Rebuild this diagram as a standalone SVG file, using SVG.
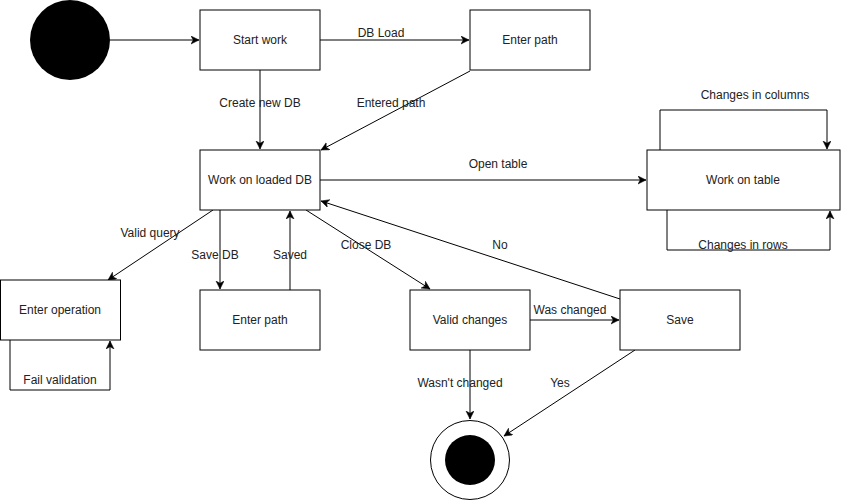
<svg xmlns="http://www.w3.org/2000/svg" width="841" height="501" viewBox="0 0 841 501">
<defs>
<style>
.box{fill:#fff;stroke:#000;stroke-width:1}
.lbl{font-family:"Liberation Sans",Arial,sans-serif;font-size:12px;fill:#222;text-anchor:middle;dominant-baseline:central}
.edge{fill:none;stroke:#000;stroke-width:1;marker-end:url(#arr)}
</style>
<marker id="arr" markerUnits="userSpaceOnUse" markerWidth="10" markerHeight="10" refX="8" refY="4" orient="auto">
<path d="M0,0 L8,4 L0,8 L2.2,4 z" fill="#000" stroke="#000" stroke-width="0.5"/>
</marker>
</defs>
<rect width="841" height="501" fill="#fff"/>
<g id="connectors">
<path class="edge" d="M110,40 L199,40"/>
<path class="edge" d="M320,40 L469,40"/>
<path class="edge" d="M260,70 L260,149"/>
<path class="edge" d="M470,71 L321,150"/>
<path class="edge" d="M320,180 L646,180"/>
<path class="edge" d="M660,150 L660,110 L827,110 L827,149"/>
<path class="edge" d="M667,210 L667,250 L830,250 L830,211"/>
<path class="edge" d="M213,210 L108,280"/>
<path class="edge" d="M10,340 L10,390 L110,390 L110,341"/>
<path class="edge" d="M220,210 L220,289"/>
<path class="edge" d="M290,290 L290,211"/>
<path class="edge" d="M306,210 L430,289"/>
<path class="edge" d="M530,320 L619,320"/>
<path class="edge" d="M620,299 L321,201"/>
<path class="edge" d="M470,350 L470,419"/>
<path class="edge" d="M635,350 L504,436"/>
<text class="lbl" x="381" y="33">DB Load</text>
<text class="lbl" x="260" y="103">Create new DB</text>
<text class="lbl" x="391" y="103">Entered path</text>
<text class="lbl" x="498" y="164">Open table</text>
<text class="lbl" x="755" y="95">Changes in columns</text>
<text class="lbl" x="743" y="245">Changes in rows</text>
<text class="lbl" x="150" y="233">Valid query</text>
<text class="lbl" x="60" y="380">Fail validation</text>
<text class="lbl" x="215" y="255">Save DB</text>
<text class="lbl" x="290" y="255">Saved</text>
<text class="lbl" x="366" y="245">Close DB</text>
<text class="lbl" x="500" y="245">No</text>
<text class="lbl" x="570" y="310">Was changed</text>
<text class="lbl" x="460" y="383">Wasn't changed</text>
<text class="lbl" x="560" y="383">Yes</text>
</g>
<g id="start"><circle cx="70" cy="40" r="40" fill="#000"/></g>
<g id="start-work"><rect class="box" x="200" y="10" width="120" height="60"/><text class="lbl" x="260" y="40">Start work</text></g>
<g id="enter-path-top"><rect class="box" x="470" y="10" width="120" height="60"/><text class="lbl" x="530" y="40">Enter path</text></g>
<g id="work-db"><rect class="box" x="200" y="150" width="120" height="60"/><text class="lbl" x="260" y="180">Work on loaded DB</text></g>
<g id="work-table"><rect class="box" x="647" y="150" width="193" height="60"/><text class="lbl" x="743" y="180">Work on table</text></g>
<g id="enter-operation"><rect class="box" x="0.5" y="280" width="120" height="60"/><text class="lbl" x="60" y="310">Enter operation</text></g>
<g id="enter-path-bottom"><rect class="box" x="200" y="290" width="120" height="60"/><text class="lbl" x="260" y="320">Enter path</text></g>
<g id="valid-changes"><rect class="box" x="410" y="290" width="120" height="60"/><text class="lbl" x="470" y="320">Valid changes</text></g>
<g id="save"><rect class="box" x="620" y="290" width="120" height="60"/><text class="lbl" x="680" y="320">Save</text></g>
<g id="end"><circle cx="470" cy="460" r="39.5" fill="#fff" stroke="#000"/><circle cx="470" cy="460" r="25" fill="#000"/></g>
</svg>
